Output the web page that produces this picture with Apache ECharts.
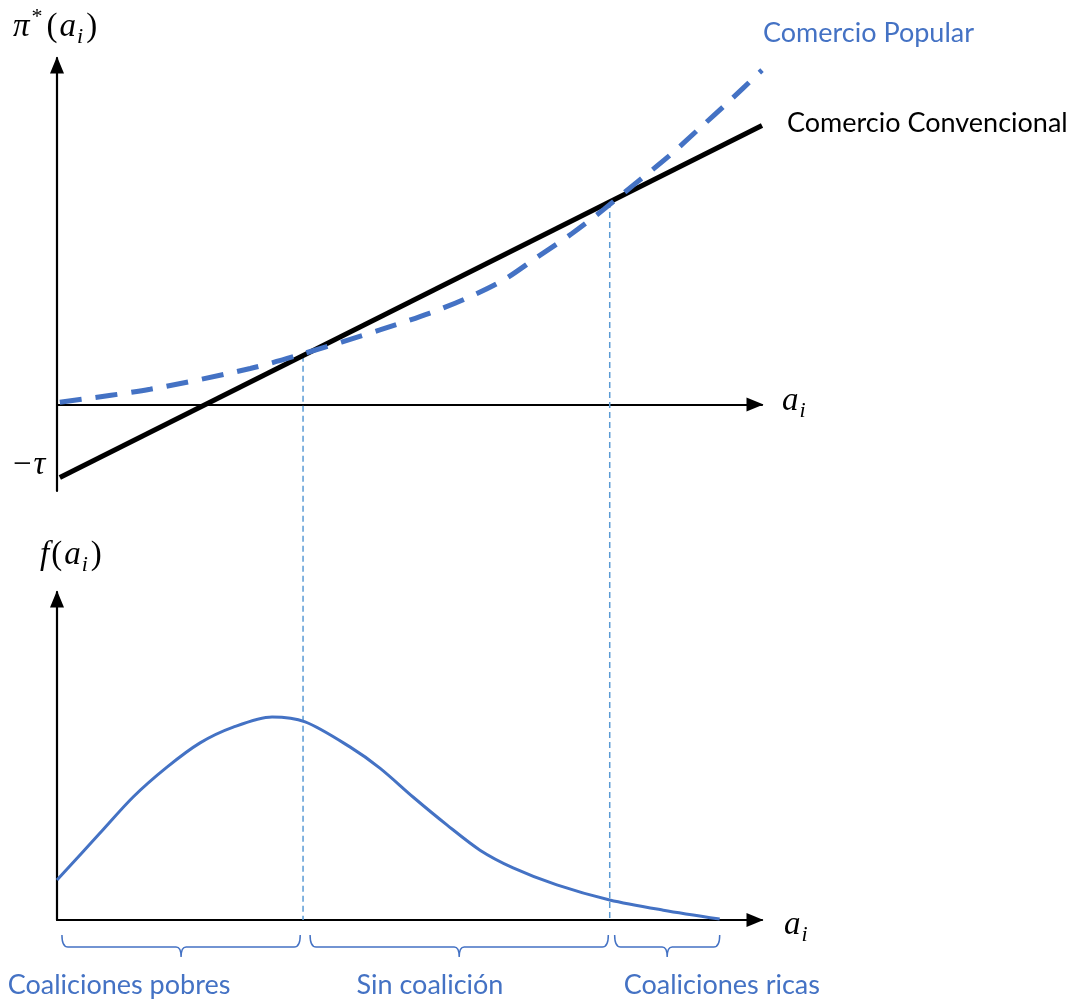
<!DOCTYPE html>
<html><head><meta charset="utf-8">
<script src="https://cdn.jsdelivr.net/npm/echarts@6/dist/echarts.min.js"></script>
<style>html,body{margin:0;padding:0;background:#fff}#c{width:1071px;height:1000px}</style>
</head><body><div id="c"></div>
<script>
// Top panel: profits pi*(a_i)
const convX = [0.04, 10];
const convY = [-1.69, 6.44];
const popX = [0.04, 1.32, 2.74, 3.49, 4.58, 5.29, 5.82, 6.33, 6.81, 7.30, 7.76, 8.21, 8.67, 9.09, 9.52, 10];
const popY = [0.05, 0.35, 0.83, 1.17, 1.72, 2.11, 2.46, 2.87, 3.40, 3.94, 4.51, 5.11, 5.72, 6.34, 6.98, 7.72];
// Bottom panel: density f(a_i)
const densX = [0, 0.61, 1.08, 1.56, 2.03, 2.50, 3.05, 3.52, 4.16, 4.58, 5.05, 5.53, 6.00, 6.47, 7.09, 7.84, 8.60, 9.40];
const densY = [1.22, 2.65, 3.75, 4.66, 5.40, 5.88, 6.19, 6.04, 5.27, 4.63, 3.75, 2.90, 2.13, 1.59, 1.07, 0.61, 0.30, 0.03];
// Thresholds (crossings of the two curves)
const crossings = [3.49, 7.84];
// Groups
const groupStart = [0.07, 3.59, 7.91];
const groupEnd = [3.45, 7.82, 9.40];
const groupLabels = ['Coaliciones pobres', 'Sin coalición', 'Coaliciones ricas'];
const groupLabelX = [0.88, 5.29, 9.43];

const BLUE = '#4472C4';
const LIGHT = '#5B9BD5';
const TXT = 'Lato, "Open Sans", sans-serif';
const MATH = '"Liberation Serif", "DejaVu Serif", serif';

const zip = (a, b) => a.map((v, i) => [v, b[i]]);

function axisCommon(gi, min, max) {
  return {
    gridIndex: gi, type: 'value', min: min, max: max,
    axisLine: { show: true, onZero: true, symbol: ['none', 'triangle'], symbolSize: [14, 17], symbolOffset: [0, -7],
      lineStyle: { color: '#000', width: 2.2 } },
    axisTick: { show: false }, axisLabel: { show: false }, splitLine: { show: false }
  };
}

const chart = echarts.init(document.getElementById('c'), null, { renderer: 'canvas' });

const option = {
  animation: false,
  grid: [
    { left: 57, top: 58, width: 705, height: 433 },
    { left: 57, top: 592, width: 705, height: 328 }
  ],
  xAxis: [axisCommon(0, 0, 10), axisCommon(1, 0, 10)],
  yAxis: [axisCommon(0, -2, 8), axisCommon(1, 0, 10)],
  series: [
    { type: 'line', xAxisIndex: 0, yAxisIndex: 0, data: zip(convX, convY), symbol: 'none', silent: true,
      lineStyle: { color: '#000', width: 5 }, z: 3 },
    { type: 'line', xAxisIndex: 0, yAxisIndex: 0, data: zip(popX, popY), symbol: 'none', silent: true, smooth: 0.3,
      lineStyle: { color: BLUE, width: 5, type: [22, 14], cap: 'butt' }, z: 4 },
    { type: 'line', xAxisIndex: 1, yAxisIndex: 1, data: zip(densX, densY), symbol: 'none', silent: true, smooth: 0.3,
      lineStyle: { color: BLUE, width: 3 }, z: 4 },
    { type: 'custom', xAxisIndex: 1, yAxisIndex: 1, silent: true, clip: false,
      data: zip(groupStart, groupEnd),
      renderItem: function (params, api) {
        const p0 = api.coord([api.value(0), 0]);
        const p1 = api.coord([api.value(1), 0]);
        const x0 = p0[0], x1 = p1[0], mid = (x0 + x1) / 2;
        const yt = p0[1] + 15, ym = p0[1] + 27, yb = p0[1] + 37;
        const d = `M${x0} ${yt} Q${x0} ${ym} ${x0 + 6} ${ym} L${mid - 5} ${ym} Q${mid} ${ym} ${mid} ${yb} ` +
                  `M${mid} ${yb} Q${mid} ${ym} ${mid + 5} ${ym} L${x1 - 6} ${ym} Q${x1} ${ym} ${x1} ${yt}`;
        return { type: 'path', shape: { pathData: d }, style: { fill: null, stroke: BLUE, lineWidth: 1.5 } };
      }
    }
  ]
};
chart.setOption(option);

function convAt(x) {
  const t = (x - convX[0]) / (convX[1] - convX[0]);
  return convY[0] + t * (convY[1] - convY[0]);
}

const graphics = [];
crossings.forEach(function (xc) {
  const top = chart.convertToPixel({ gridIndex: 0 }, [xc, convAt(xc)]);
  const bot = chart.convertToPixel({ gridIndex: 1 }, [xc, 0]);
  graphics.push({ type: 'line', shape: { x1: top[0], y1: top[1], x2: bot[0], y2: bot[1] },
    style: { stroke: LIGHT, lineWidth: 1.5, lineDash: [6, 4] }, z: 1, silent: true });
});
groupLabels.forEach(function (lab, i) {
  const p = chart.convertToPixel({ gridIndex: 1 }, [groupLabelX[i], 0]);
  graphics.push({ type: 'text', x: p[0], y: 985, silent: true,
    style: { text: lab, fill: BLUE, font: '27px ' + TXT, textAlign: 'center', textVerticalAlign: 'middle' } });
});

const mathRich = {
  it: { fontFamily: MATH, fontStyle: 'italic', fontSize: 33, lineHeight: 38, fill: '#000', verticalAlign: 'bottom', padding: [0, 1, 0, 1] },
  n: { fontFamily: MATH, fontSize: 33, lineHeight: 38, fill: '#000', verticalAlign: 'bottom', padding: [0, 1, 0, 1] },
  sup: { fontFamily: MATH, fontSize: 22, lineHeight: 38, fill: '#000', verticalAlign: 'top', padding: [0, 3, 0, 1] },
  sub: { fontFamily: MATH, fontStyle: 'italic', fontSize: 22, lineHeight: 22, fill: '#000', verticalAlign: 'bottom', padding: [0, 2, -4, 0] }
};

graphics.push(
  { type: 'text', x: 12, y: 6, silent: true,
    style: { text: '{it|π}{sup|*}{n|(}{it|a}{sub|i}{n|)}', rich: mathRich } },
  { type: 'text', x: 12, y: 444, silent: true,
    style: { text: '{n|−}{it|τ}', rich: mathRich } },
  { type: 'text', x: 781, y: 380, silent: true,
    style: { text: '{it|a}{sub|i}', rich: mathRich } },
  { type: 'text', x: 39, y: 534, silent: true,
    style: { text: '{it|f}{n|(}{it|a}{sub|i}{n|)}', rich: mathRich } },
  { type: 'text', x: 783, y: 904, silent: true,
    style: { text: '{it|a}{sub|i}', rich: mathRich } },
  { type: 'text', x: 763, y: 33, silent: true,
    style: { text: 'Comercio Popular', fill: BLUE, font: '27px ' + TXT, textVerticalAlign: 'middle' } },
  { type: 'text', x: 787, y: 123, silent: true,
    style: { text: 'Comercio Convencional', fill: '#000', font: '27px ' + TXT, textVerticalAlign: 'middle' } }
);
chart.setOption({ graphic: graphics });
</script>
</body></html>
